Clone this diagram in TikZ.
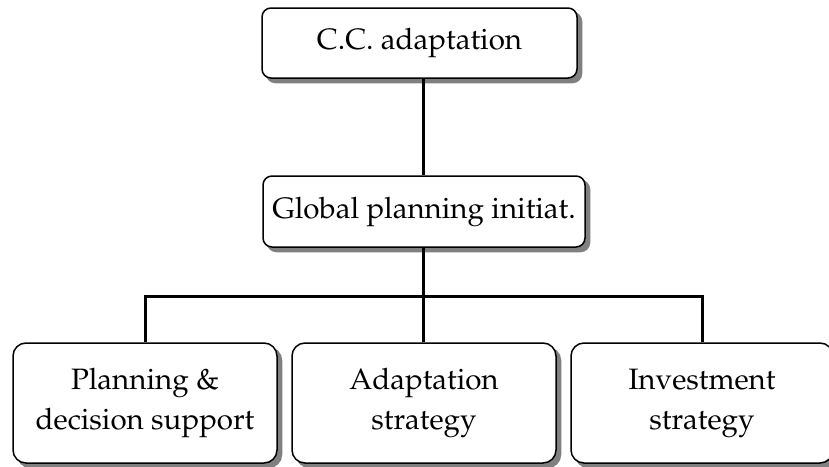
\documentclass[tikz,border=0pt]{standalone}
\usepackage[T1]{fontenc}
\usepackage{mathpazo}
\begin{document}
\begin{tikzpicture}[x=1pt,y=-1pt,
  box/.style={draw=black, line width=1.5pt, fill=white, rounded corners=9pt,
    align=center, inner sep=0pt,
    font=\fontsize{29.5}{40}\selectfont,
    preaction={draw=black!50, fill=black!50, transform canvas={xshift=4.5pt, yshift=-4.5pt}}},
  link/.style={line width=3pt, black}
]
\useasboundingbox (0,0) rectangle (829,466);
\node[box, minimum width=315pt, minimum height=70pt] (cc) at (419.5,43) {C.C. adaptation};
\node[box, minimum width=322pt, minimum height=71pt] (gp) at (424,211.5) {Global planning initiat.};
\node[box, minimum width=264pt, minimum height=120pt, rounded corners=13pt] (pd) at (145,403) {Planning \&\\decision support};
\node[box, minimum width=264pt, minimum height=120pt, rounded corners=13pt] (as) at (424,403) {Adaptation\\strategy};
\node[box, minimum width=262pt, minimum height=120pt, rounded corners=13pt] (is) at (702,403) {Investment\\strategy};
\coordinate (hub) at (423,296);
\draw[link] (cc.south -| hub) -- (gp.north -| hub);
\draw[link] (gp.south -| hub) -- (hub);
\draw[link] (pd.north) |- (hub) -| (is.north);
\draw[link] (hub) -- (as.north -| hub);
\end{tikzpicture}
\end{document}
